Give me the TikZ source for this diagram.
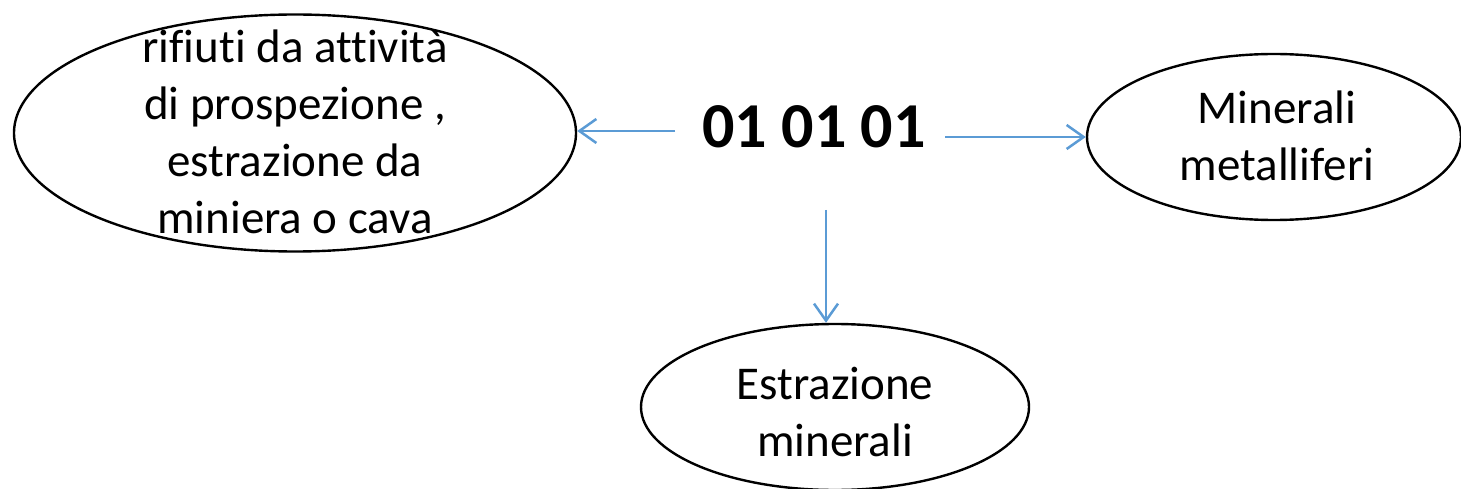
\documentclass[tikz,border=0pt]{standalone}
\usepackage{fontspec}
\setmainfont{Carlito}[Ligatures=NoCommon]
\usetikzlibrary{arrows.meta,shapes.geometric}
\definecolor{arrowblue}{HTML}{5B9BD5}
\tikzset{
  oval/.style={draw=black, line width=2.4pt, ellipse, inner sep=0pt},
  lbl/.style={anchor=base, inner sep=0pt, font=\fontsize{47}{57}\selectfont},
  codelbl/.style={anchor=base, inner sep=0pt, font=\fontsize{64}{76}\selectfont\bfseries},
  arr/.style={draw=arrowblue, line width=2.5pt, -{Straight Barb[length=17pt,width=24pt]}}
}
\begin{document}
\begin{tikzpicture}[x=1pt,y=-1pt]
\useasboundingbox (0,0) rectangle (1461,489);
% ellipses
\node[oval, minimum width=562pt, minimum height=237pt] (lell) at (295,133) {};
\node[oval, minimum width=374pt, minimum height=166pt] (rell) at (1274,137) {};
\node[oval, minimum width=388pt, minimum height=166pt] (bell) at (835,407) {};
% texts
\node[lbl] (ltxt) at (295,63) {\begin{tabular}[t]{@{}c@{}}rifiuti da attività\\di prospezione ,\\estrazione da\\miniera o cava\end{tabular}};
\node[lbl] (rtxt) at (1277,124) {\begin{tabular}[t]{@{}c@{}}Minerali\\metalliferi\end{tabular}};
\node[lbl] (btxt) at (835,399) {\begin{tabular}[t]{@{}c@{}}Estrazione\\minerali\end{tabular}};
\node[codelbl] (code) at (814,148) {01 01 01};
% arrow starts
\coordinate (s1) at (675,131);
\coordinate (s2) at (945,137);
\coordinate (s3) at (826,210);
\draw[arr] (s1) -- (s1 -| lell.east);
\draw[arr] (s2) -- (rell.west);
\draw[arr] (s3) -- (s3 |- bell.north);
\end{tikzpicture}
\end{document}
